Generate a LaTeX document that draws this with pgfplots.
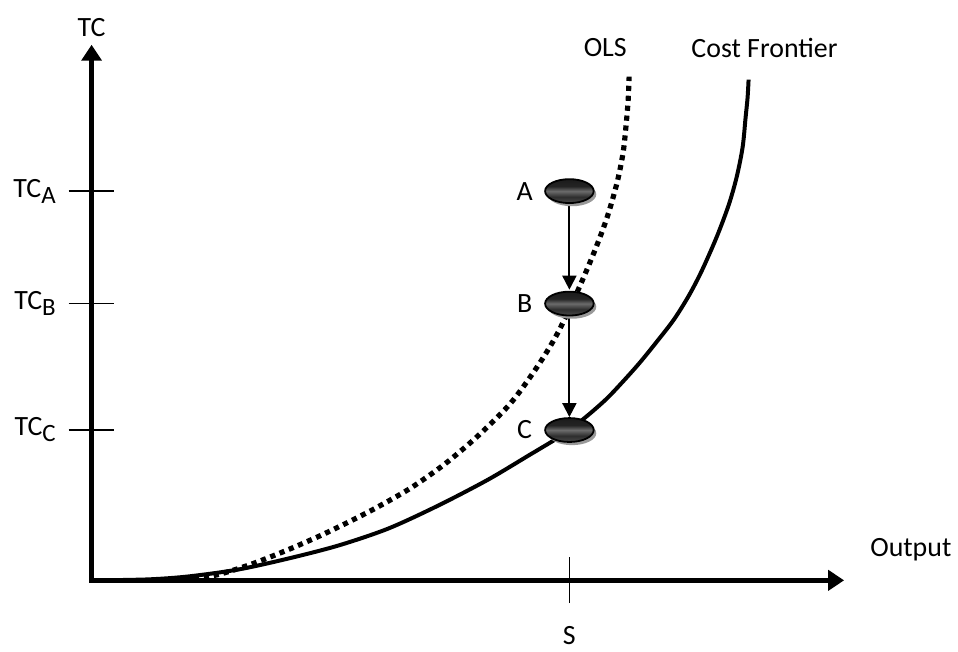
\documentclass[border=0pt]{standalone}
\usepackage{pgfplots}
\pgfplotsset{compat=1.18}
\usetikzlibrary{arrows.meta}
\usepackage{fontspec}
\setmainfont{Carlito}
\newcommand{\sub}[1]{\raisebox{-3pt}{\fontsize{12.5}{14}\selectfont #1}}
\pgfdeclareverticalshading{ellshade}{100bp}{color(0bp)=(black!50); color(38bp)=(black!82); color(50bp)=(black!58); color(60bp)=(black!86); color(100bp)=(black!95)}
\pgfdeclareplotmark{oval}{%
  \pgfpathellipse{\pgfpointorigin}{\pgfpoint{12.2pt}{0pt}}{\pgfpoint{0pt}{6pt}}%
  \pgfshadepath{ellshade}{0}%
  \pgfpathellipse{\pgfpointorigin}{\pgfpoint{12.2pt}{0pt}}{\pgfpoint{0pt}{6pt}}%
  \pgfusepathqstroke}
\pgfdeclareplotmark{ovalshadow}{%
  \pgfpathellipse{\pgfpoint{1.3pt}{-1.6pt}}{\pgfpoint{12.2pt}{0pt}}{\pgfpoint{0pt}{6pt}}%
  \pgfusepathqfill}
\begin{document}
\begin{tikzpicture}[font=\fontsize{14}{17}\selectfont]
\begin{axis}[
  scale only axis, width=378pt, height=269pt,
  xmin=0, xmax=756, ymin=0, ymax=538,
  axis lines=left,
  axis line style={line width=2.5pt, line cap=rect, -{Triangle[width=10pt,length=8pt]}},
  clip=false,
  xtick={480}, xticklabels={S},
  ytick={151,278,391},
  yticklabels={TC\sub{C},TC\sub{B},TC\sub{A}},
  tick align=center,
  major tick length=23pt,
  tick style={line width=0.8pt, black},
  tick label style={font=\fontsize{14}{17}\selectfont},
  xticklabel style={yshift=-8pt},
  yticklabel style={xshift=-3pt},
]
% Cost frontier
\addplot[line width=2pt, smooth, tension=0.5] coordinates {
(8,0) (58,1) (98,4) (148,11) (198,22) (248,35) (298,52) (348,75) (398,101)
(440,126) (465,141) (480,151) (500,167) (518,183) (535,201) (551,219) (568,240) (585,262)
(600,286) (613,311) (628,345) (640,377) (648,405) (654,435) (657,465) (659,485) (660,503)
};
% points
\addplot[only marks, mark=ovalshadow, color=black!40] coordinates {(480,391) (480,278) (480,151)};
\addplot[only marks, mark=oval, mark options={draw=black, line width=0.9pt}] coordinates {(480,391) (480,278) (480,151)};
% OLS
\addplot[line width=2.6pt, dash pattern=on 2.6pt off 2.4pt, smooth, tension=0.5] coordinates {
(83,0) (108,2) (128,6) (148,12) (168,19) (198,31) (230,45) (261,60) (288,74) (321,93)
(355,117) (388,145) (421,178) (448,215) (468,248) (488,290) (505,330) (518,365) (528,400)
(534,430) (537,458) (539,482) (540,506)
};
% arrows
\addplot[line width=1pt, -{Triangle[width=7pt,length=7pt]}] coordinates {(480,380) (480,292)};
\addplot[line width=1pt, -{Triangle[width=7pt,length=7pt]}] coordinates {(480,267) (480,164)};
% labels
\node at (axis cs:435,391) {A};
\node at (axis cs:435,278) {B};
\node at (axis cs:435,151) {C};
\node at (axis cs:516,535) {OLS};
\node at (axis cs:676,535) {Cost Frontier};
\node at (axis cs:823,31) {Output};
\node at (axis cs:0,555) {TC};
\path (axis cs:-92,-64) rectangle (axis cs:866,583);
\end{axis}
\end{tikzpicture}
\end{document}
